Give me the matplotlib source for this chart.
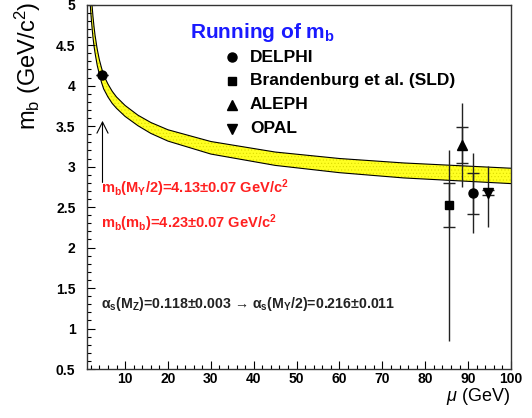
import matplotlib
matplotlib.use('Agg')
import matplotlib.pyplot as plt
from matplotlib.ticker import MultipleLocator, FormatStrFormatter

plt.rcParams['font.family'] = ['Liberation Sans', 'DejaVu Sans']
plt.rcParams['mathtext.fontset'] = 'custom'
plt.rcParams['mathtext.rm'] = 'Liberation Sans'
plt.rcParams['mathtext.sf'] = 'Liberation Sans'
plt.rcParams['mathtext.it'] = 'Liberation Sans:italic'
plt.rcParams['mathtext.bf'] = 'Liberation Sans:bold'
plt.rcParams['hatch.linewidth'] = 0.4

# running mass band
mu_band = [1.7, 2.0, 2.25, 2.5, 2.75, 3.0, 3.5, 4.0, 4.5, 5.0, 6.0, 7.0, 8.0,
           10.0, 13.0, 16.0, 20.0, 30.0, 45.0, 60.0, 75.0, 100.0]
mb_upper = [5.50, 5.20, 5.02, 4.86, 4.73, 4.62, 4.45, 4.32, 4.22, 4.13, 4.02, 3.93, 3.86,
            3.755, 3.635, 3.545, 3.455, 3.31, 3.18, 3.10, 3.045, 2.98]
mb_lower = [5.15, 4.90, 4.74, 4.60, 4.49, 4.40, 4.25, 4.14, 4.04, 3.96, 3.86, 3.78, 3.72,
            3.62, 3.505, 3.41, 3.315, 3.155, 3.015, 2.925, 2.86, 2.79]

# measurements: value, inner (stat) error, total error (down, up)
delphi_mu = [4.73, 91.2]
delphi_mb = [4.13, 2.67]
delphi_in = [0.0, 0.25]
delphi_lo = [0.0, 0.49]
delphi_hi = [0.0, 0.50]

sld_mu = [85.6]
sld_mb = [2.53]
sld_in = [0.27]
sld_lo = [1.69]
sld_hi = [0.68]

aleph_mu = [88.5]
aleph_mb = [3.27]
aleph_in = [0.22]
aleph_lo = [0.52]
aleph_hi = [0.51]

opal_mu = [94.6]
opal_mb = [2.68]
opal_in = [0.03]
opal_lo = [0.42]
opal_hi = [0.33]

legend_names = ['DELPHI', 'Brandenburg et al. (SLD)', 'ALEPH', 'OPAL']
legend_markers = ['o', 's', '^', 'v']
legend_rows = [0.856, 0.791, 0.725, 0.659]

y_ticks = [0.5, 1, 1.5, 2, 2.5, 3, 3.5, 4, 4.5, 5]
x_ticks = [10, 20, 30, 40, 50, 60, 70, 80, 90, 100]


def draw_points(ax, mu, mb, inner, lo, hi, marker, ms):
    ax.errorbar(mu, mb, yerr=[lo, hi], fmt='none', ecolor='#222222', elinewidth=1.0, capsize=0)
    ax.errorbar(mu, mb, yerr=inner, fmt='none', ecolor='#222222', elinewidth=1.0,
                capsize=4, capthick=1.0)
    ax.plot(mu, mb, linestyle='none', marker=marker, color='black', markersize=ms)


fig = plt.figure(figsize=(5.32, 4.18), dpi=100)
ax = fig.add_axes([0.1626, 0.1172, 0.7979, 0.8716])

ax.fill_between(mu_band, mb_lower, mb_upper, facecolor='#ffff22', edgecolor='#dada00',
                hatch='.....', linewidth=0)
ax.plot(mu_band, mb_upper, color='black', lw=0.8)
ax.plot(mu_band, mb_lower, color='black', lw=0.8)

draw_points(ax, delphi_mu, delphi_mb, delphi_in, delphi_lo, delphi_hi, 'o', 6.5)
draw_points(ax, sld_mu, sld_mb, sld_in, sld_lo, sld_hi, 's', 6)
draw_points(ax, aleph_mu, aleph_mb, aleph_in, aleph_lo, aleph_hi, '^', 6.5)
draw_points(ax, opal_mu, opal_mb, opal_in, opal_lo, opal_hi, 'v', 6.5)

# arrow pointing at the low-scale DELPHI point
ax.annotate('', xy=(4.73, 3.60), xytext=(4.73, 2.77),
            arrowprops=dict(arrowstyle='->', lw=0.8, color='black', mutation_scale=20))

ax.set_xlim(1, 100)
ax.set_ylim(0.5, 5)
ax.set_xticks(x_ticks)
ax.set_yticks(y_ticks)
ax.xaxis.set_minor_locator(MultipleLocator(2))
ax.yaxis.set_minor_locator(MultipleLocator(0.1))
ax.yaxis.set_major_formatter(FormatStrFormatter('%g'))
ax.tick_params(which='major', direction='in', length=6, width=0.8)
ax.tick_params(which='minor', direction='in', length=3, width=0.8)
ax.tick_params(axis='y', which='major', pad=8)
ax.tick_params(axis='x', which='major', pad=2)
for lab in ax.get_xticklabels() + ax.get_yticklabels():
    lab.set_fontweight('bold')
    lab.set_fontsize(10)
for sp in ax.spines.values():
    sp.set_linewidth(1.0)
    sp.set_color('#333333')

fig.text(28 / 532, 1 - 66 / 418, r'm$_\mathsf{b}$ (GeV/c$^\mathsf{2}$)', rotation=90,
         ha='center', va='center', fontsize=17)
ax.set_xlabel(r'$\mu$ (GeV)', fontsize=13, loc='right')
ax.xaxis.set_label_coords(0.9976, -0.047)

# legend block
ax.text(0.244, 0.925, r'Running of m$_\mathbf{b}$', transform=ax.transAxes, color='#1a1aff',
        fontsize=15, fontweight='bold', va='center', ha='left')
for name, mk, yy in zip(legend_names, legend_markers, legend_rows):
    ax.plot([0.343], [yy], marker=mk, color='black', markersize=6.5 if mk != 's' else 6,
            linestyle='none', transform=ax.transAxes)
    ax.text(0.385, yy, name, transform=ax.transAxes, fontsize=12.5, fontweight='bold',
            va='center', ha='left')

ax.text(0.034, 0.497, r'm$_\mathbf{b}$(M$_\mathbf{\Upsilon}$/2)=4.13±0.07 GeV/c$^\mathbf{2}$',
        transform=ax.transAxes, color='#ff2020', fontsize=10.5, fontweight='bold', va='center')
ax.text(0.034, 0.401, r'm$_\mathbf{b}$(m$_\mathbf{b}$)=4.23±0.07 GeV/c$^\mathbf{2}$',
        transform=ax.transAxes, color='#ff2020', fontsize=10.5, fontweight='bold', va='center')
ax.text(0.034, 0.178,
        r'α$_\mathbf{s}$(M$_\mathbf{Z}$)=0.118±0.003 → α$_\mathbf{s}$(M$_\mathbf{\Upsilon}$/2)=0.216±0.011',
        transform=ax.transAxes, color='#222222', fontsize=10.2, fontweight='bold', va='center')

fig.savefig('out.png', dpi=100)
